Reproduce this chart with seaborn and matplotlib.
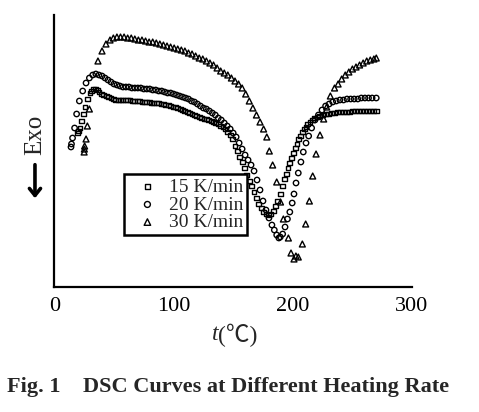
import matplotlib
matplotlib.use("Agg")
import matplotlib.pyplot as plt
import seaborn as sns
import pandas as pd

# ---------------- data ----------------
rate_labels = ["15 K/min", "20 K/min", "30 K/min"]

t15 = [19.3, 20.5, 21.5, 22.9, 24.3, 25.7, 27.7, 29.9, 31.5, 33.0, 34.5, 36.0, 37.5, 39.5,
       41.5, 43.5, 45.5, 47.5, 49.5, 51.5, 53.5, 55.5, 57.5, 59.5, 61.5, 63.5, 65.5, 67.5,
       69.5, 71.5, 73.5, 75.5, 77.5, 79.5, 81.5, 83.5, 85.5, 87.5, 89.5, 91.5, 93.5, 95.5,
       97.5, 99.5, 101.5, 103.5, 105.5, 107.5, 109.5, 111.5, 113.5, 115.5, 117.5, 119.5,
       121.5, 123.5, 125.5, 127.5, 129.5, 131.5, 133.5, 135.5, 137.5, 139.5, 141.5, 143.5,
       145.5, 147.5, 149.5, 151.5, 153.5, 155.5, 157.5, 159.5, 161.5, 163.5, 165.5, 167.5,
       169.5, 171.5, 173.5, 175.5, 177.5, 179.5, 181.5, 183.5, 185.5, 187.5, 189.5, 191.5,
       193.0, 194.5, 196.0, 197.5, 199.0, 200.5, 202.0, 203.5, 205.0, 206.5, 208.0, 209.5,
       211.0, 212.5, 214.5, 216.5, 218.5, 220.5, 222.5, 225.0, 227.5, 230.0, 232.5, 235.0,
       237.5, 240.0, 242.5, 245.0, 247.5, 250.0, 252.5, 255.0, 257.5, 260.0, 262.5, 265.0,
       267.5, 270.0]
h15 = [15.4, 15.6, 15.9, 16.6, 17.3, 18.0, 18.8, 19.4, 19.6, 19.8, 19.8, 19.7, 19.5, 19.3,
       19.2, 19.1, 19.0, 18.9, 18.8, 18.7, 18.7, 18.7, 18.7, 18.7, 18.7, 18.7, 18.6, 18.6,
       18.6, 18.6, 18.5, 18.5, 18.5, 18.5, 18.4, 18.4, 18.4, 18.4, 18.3, 18.3, 18.2, 18.2,
       18.1, 18.0, 18.0, 17.9, 17.8, 17.7, 17.6, 17.5, 17.4, 17.3, 17.2, 17.1,
       17.0, 16.9, 16.8, 16.8, 16.7, 16.6, 16.5, 16.4, 16.3, 16.1, 16.0, 15.8,
       15.5, 15.2, 14.8, 14.1, 13.6, 13.0, 12.5, 11.9, 11.2, 10.6, 10.1, 9.5,
       8.9, 8.3, 7.9, 7.5, 7.3, 7.2, 7.3, 7.6, 8.1, 8.6, 9.3, 10.1,
       10.8, 11.3, 11.9, 12.4, 12.9, 13.4, 13.9, 14.3, 14.8, 15.1, 15.5, 15.8,
       16.0, 16.3, 16.5, 16.7, 16.9, 17.0, 17.1, 17.2, 17.3, 17.3, 17.4, 17.4,
       17.5, 17.5, 17.5, 17.5, 17.5, 17.6, 17.6, 17.6, 17.6, 17.6, 17.6, 17.6,
       17.6, 17.6]

t20 = [14.0, 14.4, 15.3, 17.0, 18.7, 21.0, 23.8, 26.6, 29.4, 32.2, 34.8, 37.4, 40.0, 42.5,
       45.0, 47.5, 50.0, 52.5, 55.0, 57.5, 60.0, 62.5, 65.0, 67.5, 70.0, 72.5, 75.0, 77.5,
       80.0, 82.5, 85.0, 87.5, 90.0, 92.5, 95.0, 97.5, 100.0, 102.5, 105.0, 107.5, 110.0,
       112.5, 115.0, 117.5, 120.0, 122.5, 125.0, 127.5, 130.0, 132.5, 135.0, 137.5, 140.0,
       142.5, 145.0, 147.5, 150.0, 152.5, 155.0, 157.5, 160.0, 162.5, 165.0, 167.5, 170.0,
       172.5, 175.0, 177.5, 180.0, 182.5, 184.5, 186.5, 188.3, 189.5, 191.5, 193.5, 195.5,
       197.5, 199.5, 201.0, 202.7, 204.6, 206.8, 208.8, 211.1, 213.3, 215.8, 218.6, 221.5,
       224.5, 227.5, 230.5, 233.5, 236.5, 239.5, 242.5, 245.5, 248.5, 251.5, 254.5, 257.5,
       260.5, 263.5, 266.5, 270.0]
h20 = [14.0, 14.3, 14.9, 15.9, 17.3, 18.6, 19.6, 20.4, 20.9, 21.2, 21.3, 21.2, 21.1, 20.9,
       20.7, 20.5, 20.3, 20.2, 20.1, 20.0, 20.0, 20.0, 19.9, 19.9, 19.9, 19.9, 19.8, 19.8,
       19.8, 19.7, 19.7, 19.6, 19.6, 19.5, 19.4, 19.4, 19.3, 19.2, 19.1, 19.0, 18.9,
       18.8, 18.6, 18.5, 18.3, 18.1, 17.9, 17.8, 17.6, 17.4, 17.2, 16.9, 16.7,
       16.4, 16.1, 15.8, 15.4, 15.0, 14.4, 13.8, 13.2, 12.7, 12.2, 11.6, 10.7,
       9.7, 8.6, 7.7, 6.9, 6.2, 5.7, 5.2, 4.9, 5.0, 5.3, 6.0, 6.8,
       7.5, 8.4, 9.3, 10.4, 11.4, 12.5, 13.5, 14.4, 15.1, 15.9, 16.7, 17.2,
       17.7, 18.1, 18.3, 18.5, 18.6, 18.7, 18.7, 18.8, 18.8, 18.8, 18.8, 18.9,
       18.9, 18.9, 18.9, 18.9]

t30 = [25.0, 25.2, 25.4, 26.6, 27.7, 29.4, 36.6, 40.0, 43.3, 46.7, 49.5, 52.5, 55.5, 58.5,
       61.5, 64.5, 67.5, 70.5, 73.5, 76.5, 79.5, 82.5, 85.5, 88.5, 91.5, 94.5, 97.5, 100.5,
       103.5, 106.5, 109.5, 112.5, 115.5, 118.5, 121.5, 124.5, 127.5, 130.5, 133.5, 136.5,
       139.5, 142.5, 145.5, 148.5, 151.5, 154.5, 157.5, 160.5, 163.5, 166.5, 169.5, 172.5,
       175.5, 178.2, 180.3, 183.1, 186.5, 189.7, 192.1, 196.3, 198.5, 201.0, 202.6, 204.6,
       208.0, 210.8, 213.9, 216.7, 219.5, 222.8, 225.9, 228.4, 231.5, 235.0, 238.0, 241.0,
       244.0, 247.0, 250.0, 253.0, 256.0, 259.0, 262.0, 265.0, 268.0, 270.0]
h30 = [13.5, 13.8, 14.1, 14.8, 16.1, 17.8, 22.6, 23.6, 24.3, 24.7, 24.9, 25.0, 25.0, 25.0,
       24.9, 24.9, 24.8, 24.7, 24.7, 24.6, 24.5, 24.5, 24.4, 24.3, 24.2, 24.1, 24.0, 23.9,
       23.8, 23.7, 23.6, 23.4, 23.3, 23.1, 22.9, 22.8, 22.6, 22.4, 22.2, 21.9,
       21.6, 21.4, 21.2, 20.9, 20.6, 20.3, 19.9, 19.3, 18.6, 17.9, 17.2, 16.5,
       15.8, 15.0, 13.6, 12.2, 10.5, 8.5, 6.8, 4.9, 3.4, 2.8, 3.1, 3.0,
       4.3, 6.3, 8.6, 11.1, 13.3, 15.2, 16.8, 18.0, 19.1, 19.9, 20.3, 20.8,
       21.2, 21.5, 21.8, 22.0, 22.2, 22.4, 22.6, 22.7, 22.8, 22.9]

x_ticks = [0, 25, 50, 75, 100, 125, 150, 175, 200, 225, 250, 275, 300]
x_ticklabels = ["0", "", "", "", "100", "", "", "", "200", "", "", "", "300"]
x_label_var = "t"
x_label_unit = "(℃)"
y_label = "Exo"
title = "Fig. 1    DSC Curves at Different Heating Rate"

# ---------------- figure ----------------
sns.set_style("white")
plt.rcParams["font.family"] = ["Liberation Serif", "Noto Sans CJK SC", "DejaVu Serif"]

fig = plt.figure(figsize=(4.79, 4.12), dpi=100)
ax = fig.add_axes([0.1134, 0.3034, 0.7468, 0.6602])

series = [(t15, h15, "s", 12), (t20, h20, "o", 15), (t30, h30, "^", 18)]
for (tx, hy, mk, sz), lab in zip(series, rate_labels):
    df = pd.DataFrame({"t": tx, "h": hy})
    sns.scatterplot(data=df, x="t", y="h", marker=mk, s=sz, facecolor="none",
                    edgecolor="black", linewidth=1.0, label=lab, ax=ax, zorder=3)

ax.set_xlim(0, 300)
ax.set_ylim(0, 27.2)
ax.set_xticks(x_ticks)
ax.set_xticklabels(x_ticklabels)
ax.set_yticks([])
ax.tick_params(axis="x", direction="in", length=3.5, width=1.5, pad=7,
               labelsize=16, colors="black")
for side in ["top", "right"]:
    ax.spines[side].set_visible(False)
for side in ["left", "bottom"]:
    ax.spines[side].set_linewidth(1.6)
    ax.spines[side].set_color("black")

ax.set_xlabel("")
ax.set_ylabel("")

leg = ax.legend(loc="lower left", bbox_to_anchor=(0.195, 0.191), fontsize=14,
                frameon=True, fancybox=False, edgecolor="black", framealpha=1,
                labelspacing=0.0, borderpad=0.2, handletextpad=0.1,
                handlelength=2.0, borderaxespad=0, markerscale=1.1)
leg.get_frame().set_linewidth(1.8)

# x-axis label: italic t followed by (℃)
fig.text(0.456, 0.187, x_label_var, ha="right", va="center", fontsize=17,
         style="italic")
fig.text(0.456, 0.187, x_label_unit, ha="left", va="center", fontsize=17,
         family=["Liberation Serif", "Noto Sans CJK SC"])

# y-axis label with downward arrow
fig.text(0.073, 0.672, y_label, rotation=90, ha="center", va="center", fontsize=18)
fig.add_artist(matplotlib.patches.FancyArrowPatch(
    (0.073, 0.607), (0.073, 0.512), transform=fig.transFigure,
    arrowstyle="->,head_length=5,head_width=4", lw=2.6, color="black",
    mutation_scale=1))

fig.text(0.476, 0.061, title, ha="center", va="center", fontsize=16,
         fontweight="bold")

fig.savefig("out.png", dpi=100)
